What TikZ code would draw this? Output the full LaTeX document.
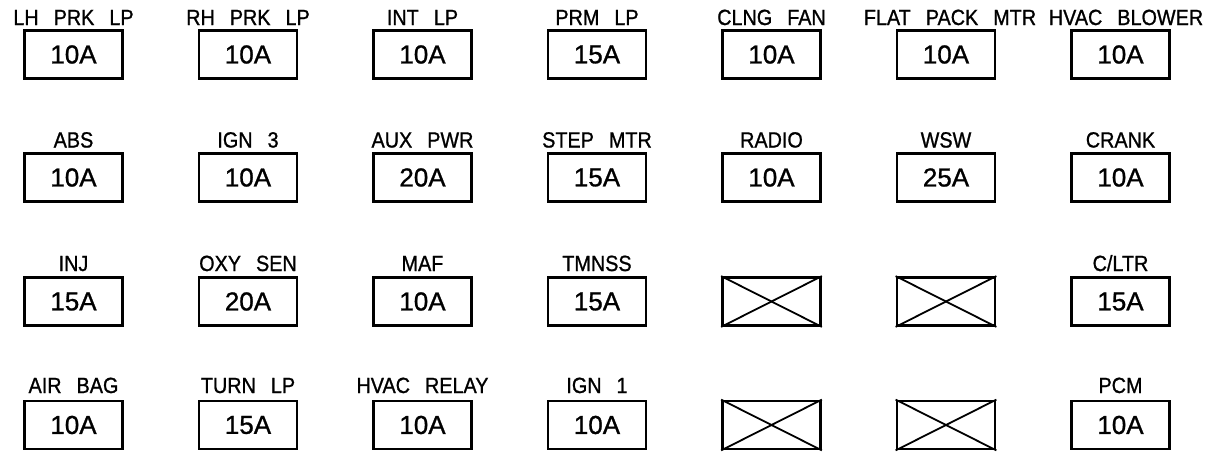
\documentclass[tikz,border=0pt]{standalone}
\usepackage{fontspec}
\setmainfont{Liberation Sans}
\newfontfamily\labfont{Liberation Sans}[FakeStretch=0.9,FakeBold=1]
\newfontfamily\ampfont{Liberation Sans}[FakeBold=1]
\begin{document}
\begin{tikzpicture}[x=1pt,y=-1pt,
  fuse/.style={draw,line width=2.8pt,minimum width=98pt,minimum height=48pt,inner sep=0pt,font=\ampfont\fontsize{26}{26}\selectfont},
  lab/.style={anchor=base,inner sep=0pt,font={\labfont\fontsize{22}{22}\selectfont\spaceskip=15pt\relax}},
  cross/.style={line width=1.8pt}]
\useasboundingbox (0,0) rectangle (1216,458);
% row 1
\foreach \lab/\amp [count=\c] in {LH PRK LP/10A,RH PRK LP/10A,INT LP/10A,PRM LP/15A,CLNG FAN/10A}{
  \node[fuse] (f1-\c) at ({73.5+174.5*(\c-1)},54.5) {\amp};
  \node[lab] (l1-\c) at ({73.5+174.5*(\c-1)},25) {\lab};
}
\node[fuse] (f1-6) at (946,54.5) {10A};
\node[lab] (l1-6) at (950,25) {FLAT PACK MTR};
\node[fuse] (f1-7) at (1120.5,54.5) {10A};
\node[lab] (l1-7) at (1126,25) {HVAC BLOWER};
% row 2
\foreach \lab/\amp [count=\c] in {ABS/10A,IGN 3/10A,AUX PWR/20A,STEP MTR/15A,RADIO/10A,WSW/25A,CRANK/10A}{
  \node[fuse] (f2-\c) at ({73.5+174.5*(\c-1)},177.5) {\amp};
  \node[lab] (l2-\c) at ({73.5+174.5*(\c-1)},147.5) {\lab};
}
% row 3
\foreach \lab/\amp [count=\c] in {INJ/15A,OXY SEN/20A,MAF/10A,TMNSS/15A}{
  \node[fuse] (f3-\c) at ({73.5+174.5*(\c-1)},301.5) {\amp};
  \node[lab] (l3-\c) at ({73.5+174.5*(\c-1)},271) {\lab};
}
\node[fuse] (f3-7) at (1120.5,301.5) {15A};
\node[lab] (l3-7) at (1120.5,271) {C/LTR};
% row 4
\foreach \lab/\amp [count=\c] in {AIR BAG/10A,TURN LP/15A,HVAC RELAY/10A,IGN 1/10A}{
  \node[fuse] (f4-\c) at ({73.5+174.5*(\c-1)},425) {\amp};
  \node[lab] (l4-\c) at ({73.5+174.5*(\c-1)},393) {\lab};
}
\node[fuse] (f4-7) at (1120.5,425) {10A};
\node[lab] (l4-7) at (1120.5,393) {PCM};
% empty (crossed) positions
\foreach \r/\y in {3/301.5,4/425}{
  \foreach \c in {5,6}{
    \node[fuse] (e\r-\c) at ({73.5+174.5*(\c-1)},\y) {};
    \draw[cross] (e\r-\c.north west) -- (e\r-\c.south east);
    \draw[cross] (e\r-\c.south west) -- (e\r-\c.north east);
  }
}
\end{tikzpicture}
\end{document}
